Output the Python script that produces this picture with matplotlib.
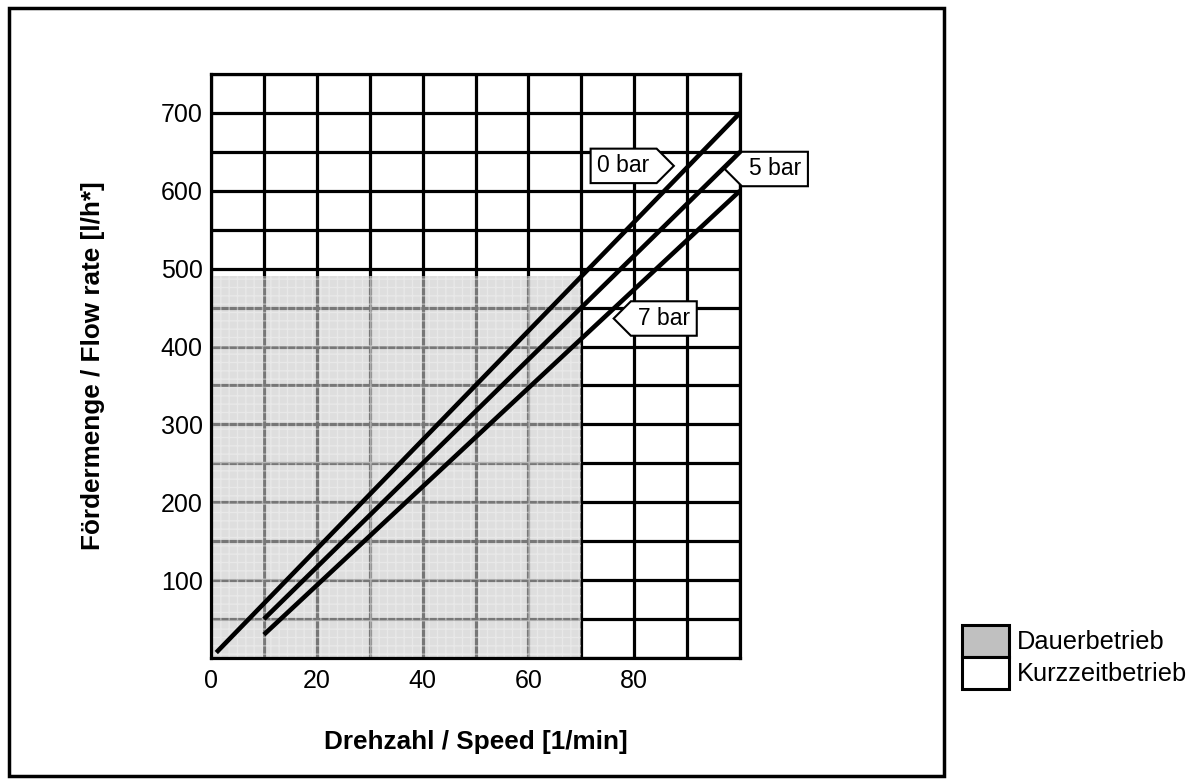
import matplotlib.pyplot as plt
from matplotlib.patches import Patch, Rectangle
from matplotlib.path import Path

plt.rcParams['font.family'] = ['Liberation Sans', 'DejaVu Sans']

# data
speed_0bar = [1, 100]
flow_0bar = [7, 700]
speed_5bar = [10, 100]
flow_5bar = [50, 650]
speed_7bar = [10, 100]
flow_7bar = [30, 600]

# continuous duty area (Dauerbetrieb)
duty_x = [0, 70]
duty_top = 490

x_ticks = list(range(0, 101, 10))
x_labels = ['0', '', '20', '', '40', '', '60', '', '80', '', '']
y_ticks = list(range(0, 751, 50))
y_labels = ['' if (v % 100 or v in (0, 750)) else str(v) for v in y_ticks]

W, H = 1204, 784
fig = plt.figure(figsize=(W / 100, H / 100), dpi=100)
ax = fig.add_axes([211 / W, 1 - 658 / H, (740 - 211) / W, (658 - 74) / H])

ax.set_xlim(0, 100)
ax.set_ylim(0, 750)
ax.set_xticks(x_ticks)
ax.set_xticklabels(x_labels)
ax.set_yticks(y_ticks)
ax.set_yticklabels(y_labels)
ax.tick_params(length=0, labelsize=18)
ax.tick_params(axis='y', pad=6)
ax.tick_params(axis='x', pad=8)
ax.set_axisbelow(True)
ax.grid(True, color='black', linewidth=2.3)
for s in ax.spines.values():
    s.set_linewidth(2.3)

# shaded area
ax.fill_between(duty_x, 0, duty_top, color='#c8c8c8', alpha=0.6, linewidth=0, zorder=2)
ax.fill_between(duty_x, 0, duty_top, facecolor='none', edgecolor='#f2f2f2',
                hatch='++', linewidth=0, alpha=0.5, zorder=2)

for xs, ys in [(speed_0bar, flow_0bar), (speed_5bar, flow_5bar), (speed_7bar, flow_7bar)]:
    ax.plot(xs, ys, color='black', linewidth=3.3, solid_capstyle='butt', zorder=3)


def pointer_box(direction):
    def box(x0, y0, width, height, mutation_size):
        px = 0.3 * mutation_size
        py = 0.25 * mutation_size
        x0, x1 = x0 - px, x0 + width + px
        y0, y1 = y0 - py, y0 + height + py
        ym = (y0 + y1) / 2
        tip = (y1 - y0) / 2
        if direction == 'right':
            verts = [(x0, y0), (x1, y0), (x1 + tip, ym), (x1, y1), (x0, y1), (x0, y0)]
        else:
            verts = [(x0, y0), (x1, y0), (x1, y1), (x0, y1), (x0 - tip, ym), (x0, y0)]
        codes = [Path.MOVETO] + [Path.LINETO] * (len(verts) - 2) + [Path.CLOSEPOLY]
        return Path(verts, codes)
    return box


labels = [('0 bar', 78.0, 632, 'right'), ('5 bar', 106.6, 628, 'left'), ('7 bar', 85.6, 436, 'left')]
for txt, lx, ly, d in labels:
    ax.text(lx, ly, txt, fontsize=16.5, ha='center', va='center', zorder=5, clip_on=False,
            bbox=dict(boxstyle=pointer_box(d), facecolor='white', edgecolor='black', linewidth=1.5))

ax.set_xlabel('Drehzahl / Speed [1/min]', fontsize=18.8, fontweight='bold')
ax.xaxis.set_label_coords(0.5, -0.123)
ax.set_ylabel('Fördermenge / Flow rate [l/h*]', fontsize=18.8, fontweight='bold')
ax.yaxis.set_label_coords(-0.2, 0.5)

# outer frame
fig.patches.append(Rectangle((9 / W, 8 / H), (944 - 9) / W, (776 - 8) / H, transform=fig.transFigure,
                             fill=False, edgecolor='black', linewidth=2.5))

handles = [Patch(facecolor='#c0c0c0', edgecolor='black', linewidth=2.2, label='Dauerbetrieb'),
           Patch(facecolor='white', edgecolor='black', linewidth=2.2, label='Kurzzeitbetrieb')]
fig.legend(handles=handles, loc='upper left', bbox_to_anchor=(962 / W, 1 - 625 / H),
           frameon=False, fontsize=18.3, handlelength=1.85, handleheight=1.55,
           labelspacing=0, handletextpad=0.3, borderpad=0, borderaxespad=0)

fig.savefig('out.png', dpi=100)
